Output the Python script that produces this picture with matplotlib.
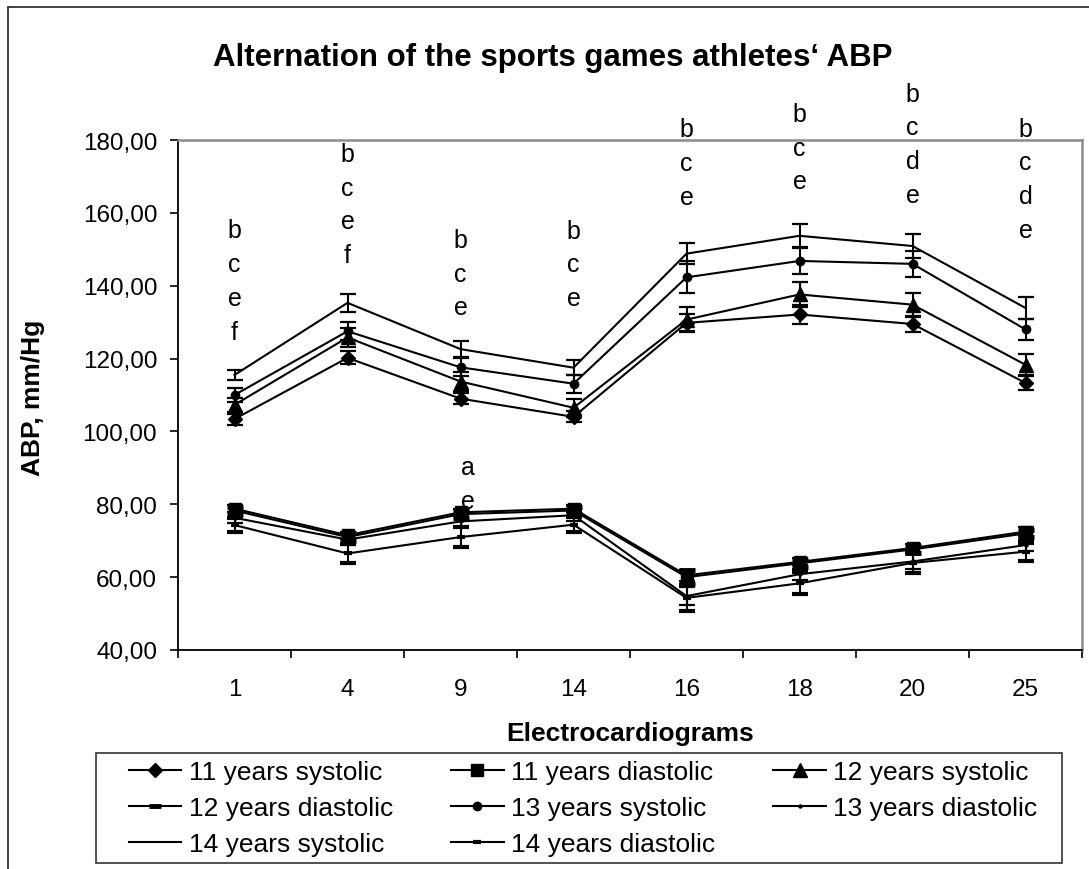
import matplotlib
matplotlib.use("Agg")
import matplotlib.pyplot as plt
import matplotlib.transforms as mtransforms
from matplotlib.patches import Rectangle

plt.rcParams['font.family'] = ['Liberation Sans', 'DejaVu Sans']

# ---------------- data ----------------
categories = ["1", "4", "9", "14", "16", "18", "20", "25"]

sys11 = [103.4, 120.2, 109.0, 104.0, 129.8, 132.1, 129.5, 113.3]
sys11_err = [1.5, 1.8, 1.5, 1.5, 2.3, 2.7, 2.2, 2.0]
dia11 = [78.8, 71.5, 77.8, 78.8, 60.5, 64.2, 68.0, 72.5]
dia11_err = [1.0, 1.0, 1.0, 1.0, 1.5, 1.0, 1.0, 1.2]
sys12 = [107.3, 125.8, 113.7, 106.5, 130.7, 137.6, 134.8, 118.3]
sys12_err = [2.0, 2.5, 2.5, 2.5, 3.4, 3.5, 3.3, 2.9]
dia12 = [78.3, 71.0, 77.3, 78.3, 60.0, 63.8, 67.6, 72.0]
dia12_err = [1.0, 1.0, 1.0, 1.0, 2.0, 1.0, 1.0, 1.0]
sys13 = [110.0, 127.5, 117.6, 113.1, 142.3, 146.8, 146.0, 128.0]
sys13_err = [2.0, 2.5, 2.5, 2.5, 4.4, 3.5, 3.6, 2.9]
dia13 = [76.3, 70.3, 75.3, 77.0, 54.8, 60.8, 64.3, 68.8]
dia13_err = [1.5, 1.5, 1.5, 1.5, 2.5, 1.5, 2.0, 1.5]
sys14 = [115.5, 135.3, 122.6, 117.5, 148.8, 153.7, 150.9, 133.9]
sys14_err = [1.5, 2.5, 2.3, 2.0, 2.8, 3.2, 3.2, 2.9]
dia14 = [74.3, 66.5, 71.0, 74.4, 54.3, 58.3, 63.9, 67.0]
dia14_err = [2.0, 2.5, 2.8, 2.0, 3.5, 3.0, 2.8, 2.5]

series_names = ["11 years systolic", "11 years diastolic", "12 years systolic",
                "12 years diastolic", "13 years systolic", "13 years diastolic",
                "14 years systolic", "14 years diastolic"]

# significance letters above systolic points (top letter value) and below
sig_letters = ["bcef", "bcef", "bce", "bce", "bce", "bce", "bcde", "bcde"]
sig_top = [155.2, 176.2, 152.6, 155.1, 182.9, 187.2, 192.7, 183.1]
low_letters = ["", "", "ae", "", "", "", "", ""]
low_top = [None, None, 90.3, None, None, None, None, None]

title = "Alternation of the sports games athletes\u2018 ABP"
xlabel = "Electrocardiograms"
ylabel = "ABP, mm/Hg"
yticks = [40, 60, 80, 100, 120, 140, 160, 180]

# ---------------- figure ----------------
W, H = 1089, 870
fig = plt.figure(figsize=(W / 100, H / 100), dpi=100)

# outer chart border (extends beyond image on right/bottom)
fig.patches.append(Rectangle((8 / W, 1 - 880 / H), (1100 - 8) / W, (880 - 8) / H,
                             transform=fig.transFigure, fill=False,
                             edgecolor='#222222', linewidth=1.2))

L, R, T, B = 178, 1082, 141, 651
ax = fig.add_axes([L / W, 1 - B / H, (R - L) / W, (B - T) / H])

x = list(range(len(categories)))

styles = [
    dict(marker='D', ms=7, mfc='black', mec='black'),
    dict(marker='s', ms=8.5, mfc='black', mec='black'),
    dict(marker='^', ms=10, mfc='black', mec='black'),
    dict(marker='_', ms=9, mew=3.5, mfc='black', mec='black'),
    dict(marker='o', ms=6, mfc='black', mec='black'),
    dict(marker='o', ms=2.2, mfc='black', mec='black'),
    dict(marker='None'),
    dict(marker='_', ms=6, mew=3.0, mfc='black', mec='black'),
]
vals = [sys11, dia11, sys12, dia12, sys13, dia13, sys14, dia14]
errs = [sys11_err, dia11_err, sys12_err, dia12_err, sys13_err, dia13_err, sys14_err, dia14_err]

handles = []
for v, e, st, name in zip(vals, errs, styles, series_names):
    cont = ax.errorbar(x, v, yerr=e, color='black', lw=1.5, elinewidth=1.5,
                       capsize=5.5, capthick=1.6, label=name, **st)
    handles.append(cont.lines[0])

ax.set_xlim(-0.5, len(categories) - 0.5)
ax.set_ylim(40, 180)
ax.set_yticks(yticks)
ax.set_yticklabels([f"{t:.2f}".replace('.', ',') for t in yticks], fontsize=17.5)
ax.set_xticks(x)
ax.set_xticklabels(categories, fontsize=17.5)
ax.set_xticks([i - 0.5 for i in range(len(categories) + 1)], minor=True)
ax.tick_params(axis='x', which='major', length=0, pad=20)
ax.tick_params(axis='x', which='minor', length=5.5, width=1.2, direction='out')
ax.tick_params(axis='y', which='major', length=5.5, width=1.2, direction='out', pad=9.5)

for s in ['left', 'bottom']:
    ax.spines[s].set_color('black')
    ax.spines[s].set_linewidth(1.3)
for s in ['top', 'right']:
    ax.spines[s].set_color('#8c8c8c')
    ax.spines[s].set_linewidth(1.8)

# significance letters
step_pt = 24.3
for i, (letters, top) in enumerate(zip(sig_letters, sig_top)):
    for k, ch in enumerate(letters):
        tr = mtransforms.offset_copy(ax.transData, fig=fig, y=-k * step_pt, units='points')
        ax.text(i, top, ch, transform=tr, ha='center', va='center', fontsize=18, clip_on=False)
for i, (letters, top) in enumerate(zip(low_letters, low_top)):
    for k, ch in enumerate(letters):
        tr = mtransforms.offset_copy(ax.transData, fig=fig, y=-k * step_pt, units='points')
        ax.text(i + 0.07, top, ch, transform=tr, ha='center', va='center', fontsize=18, clip_on=False)

# titles
fig.text(553 / W, 1 - 58 / H, title, ha='center', va='center', fontsize=22.5, fontweight='bold')
fig.text(630 / W, 1 - 734 / H, xlabel, ha='center', va='center', fontsize=19, fontweight='bold')
fig.text(33 / W, 1 - 398 / H, ylabel, ha='center', va='center', fontsize=19,
         fontweight='bold', rotation=90)

# legend (row-major order in 3 columns)
order = [0, 3, 6, 1, 4, 7, 2, 5]
leg = fig.legend([handles[i] for i in order], [series_names[i] for i in order],
                 loc='upper left', bbox_to_anchor=(128.5 / W, 1 - 761 / H),
                 ncol=3, frameon=False, fontsize=19, borderpad=0, borderaxespad=0,
                 handlelength=2.0, handletextpad=0.28, columnspacing=2.2,
                 labelspacing=0.45)
fig.patches.append(Rectangle((96 / W, 1 - 864 / H), (1062 - 96) / W, (864 - 754) / H,
                             transform=fig.transFigure, fill=False,
                             edgecolor='#333333', linewidth=1.2))

fig.savefig("out.png", dpi=100)
